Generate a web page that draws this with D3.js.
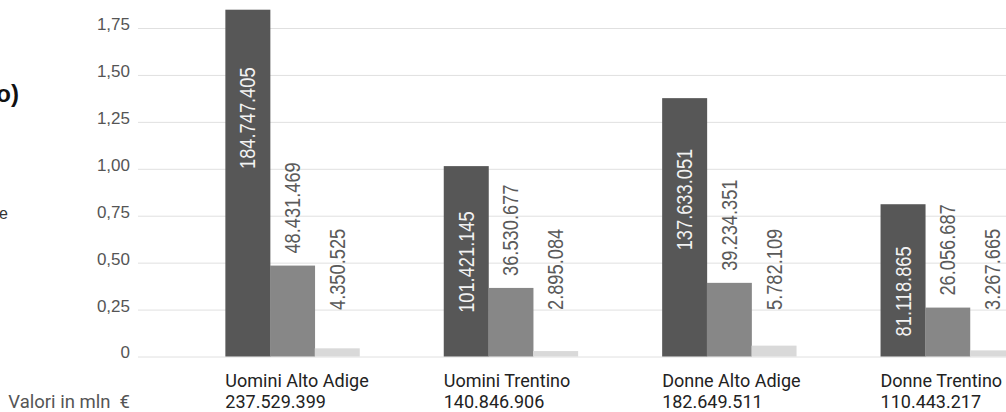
<!DOCTYPE html>
<html>
<head>
<meta charset="utf-8">
<script src="https://cdn.jsdelivr.net/npm/d3@7"></script>
<style>
  html, body { margin: 0; padding: 0; background: #fff; overflow: hidden; }
  svg { display: block; }
</style>
</head>
<body>
<svg id="chart" width="1006" height="412"></svg>
<script>
// ---- data ----
const categories = ["Uomini Alto Adige", "Uomini Trentino", "Donne Alto Adige", "Donne Trentino"];
const totals = [237529399, 140846906, 182649511, 110443217];
const seriesDark = [184747405, 101421145, 137633051, 81118865];
const seriesMid = [48431469, 36530677, 39234351, 26056687];
const seriesLight = [4350525, 2895084, 5782109, 3267665];
const yTicks = [0, 0.25, 0.5, 0.75, 1.0, 1.25, 1.5, 1.75];
const unitLabel = "Valori in mln  €";
const titleTail = "o)";
const subtitleTail = "e";

const seriesKeys = ["dark", "mid", "light"];
const seriesData = { dark: seriesDark, mid: seriesMid, light: seriesLight };
const colors = { dark: "#575757", mid: "#878787", light: "#d9d9d9" };

const itFmt = d3.formatLocale({ decimal: ",", thousands: ".", grouping: [3], currency: ["€", ""] });
const fmtInt = itFmt.format(",d");
const fmtTick = d => d === 0 ? "0" : itFmt.format(".2f")(d);

const svg = d3.select("#chart");

// ---- scales ----
const x0 = d3.scaleBand().domain(categories).range([138, 1102]).paddingInner(0.386).paddingOuter(0.4);
const x1 = d3.scaleBand().domain(seriesKeys).range([0, x0.bandwidth()]);
const y = d3.scaleLinear().domain([0, 1.75]).range([356.5, 28]);
const toUnits = v => v / 1e8;

// ---- gridlines + tick labels ----
const yAxis = d3.axisLeft(y).tickValues(yTicks).tickFormat(fmtTick).tickSize(-(1006 - 138)).tickPadding(8);
const gAxis = svg.append("g").attr("transform", "translate(138,0)").call(yAxis);
gAxis.select(".domain").remove();
gAxis.selectAll(".tick line").attr("stroke", "#e0e0e0").attr("stroke-width", 1);
gAxis.selectAll(".tick text")
  .attr("fill", "#555")
  .attr("font-family", "'Liberation Sans', Arial, sans-serif")
  .attr("font-size", 17)
  .attr("y", -4);

// ---- bars ----
const rows = categories.map((c, i) => ({
  cat: c,
  items: seriesKeys.map(k => ({ key: k, value: seriesData[k][i] }))
}));

const groups = svg.append("g").selectAll("g").data(rows).join("g")
  .attr("transform", d => `translate(${x0(d.cat)},0)`);

groups.selectAll("rect").data(d => d.items).join("rect")
  .attr("x", d => x1(d.key))
  .attr("width", x1.bandwidth() + 0.3)
  .attr("y", d => y(toUnits(d.value)))
  .attr("height", d => y(0) - y(toUnits(d.value)))
  .attr("fill", d => colors[d.key]);

// ---- value labels (rotated, condensed) ----
const labelFont = "'Liberation Sans', Arial, sans-serif";
groups.selectAll("text.val").data(d => d.items).join("text")
  .attr("class", "val")
  .attr("font-family", labelFont)
  .attr("font-size", 22)
  .attr("fill", d => d.key === "dark" ? "#f2f2f2" : "#5a5a5a")
  .attr("text-anchor", d => d.key === "dark" ? "end" : "start")
  .attr("dominant-baseline", "central")
  .attr("transform", d => {
    const cx = x1(d.key) + x1.bandwidth() / 2;
    const top = y(toUnits(d.value));
    let py;
    if (d.key === "dark") {
      const h = y(0) - top;
      py = top + 30 + 0.08 * h;
    } else {
      py = Math.min(top - 12, 310);
    }
    return `translate(${cx},${py}) rotate(-90) scale(0.83,1)`;
  })
  .text(d => fmtInt(d.value));

// ---- category labels ----
const catG = svg.append("g");
catG.selectAll("text.cat").data(categories).join("text")
  .attr("class", "cat")
  .attr("x", d => x0(d))
  .attr("y", 386.5)
  .attr("font-family", "Roboto, 'Noto Sans', sans-serif")
  .attr("font-size", 18)
  .attr("fill", "#222")
  .text(d => d);
catG.selectAll("text.tot").data(categories).join("text")
  .attr("class", "tot")
  .attr("x", d => x0(d))
  .attr("y", 408)
  .attr("font-family", "Roboto, 'Noto Sans', sans-serif")
  .attr("font-size", 18)
  .attr("fill", "#222")
  .text((d, i) => fmtInt(totals[i]));

// ---- unit label ----
svg.append("text")
  .attr("x", 130).attr("y", 408)
  .attr("text-anchor", "end")
  .attr("font-family", "Roboto, 'Noto Sans', sans-serif")
  .attr("font-size", 18.5)
  .attr("fill", "#555")
  .style("white-space", "pre")
  .text(unitLabel);

// ---- clipped title / subtitle remnants ----
svg.append("text")
  .attr("x", 19).attr("y", 102)
  .attr("text-anchor", "end")
  .attr("font-family", "'Liberation Sans', Arial, sans-serif")
  .attr("font-size", 24)
  .attr("font-weight", 700)
  .attr("fill", "#111")
  .text(titleTail);
svg.append("text")
  .attr("x", 8).attr("y", 219)
  .attr("text-anchor", "end")
  .attr("font-family", "'Liberation Sans', Arial, sans-serif")
  .attr("font-size", 16)
  .attr("fill", "#333")
  .text(subtitleTail);
</script>
</body>
</html>
